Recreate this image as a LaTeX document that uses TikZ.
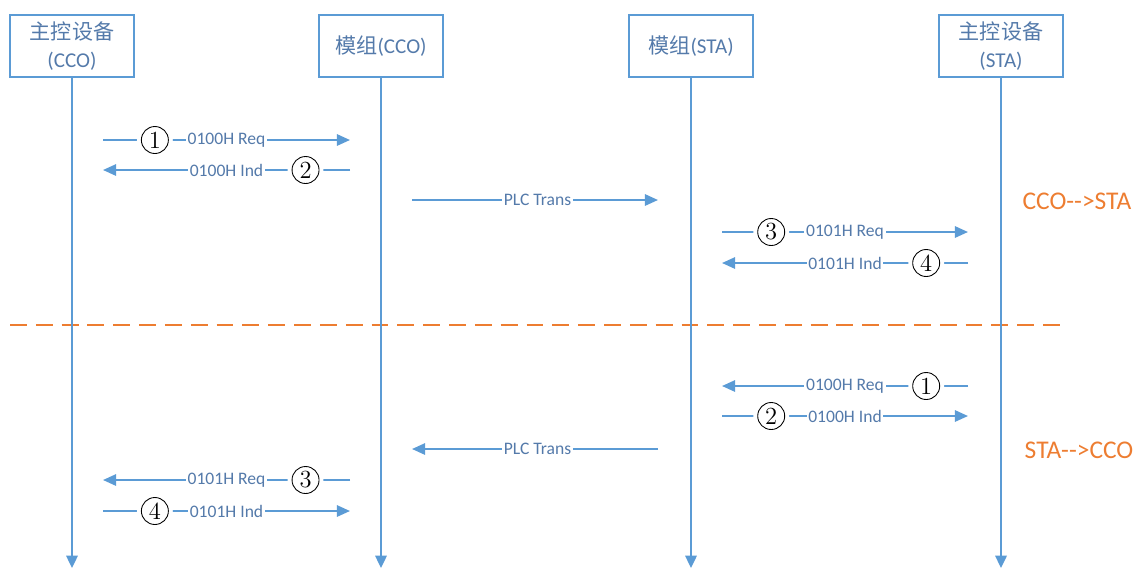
\documentclass[tikz,border=0pt]{standalone}
\usepackage{fontspec}
\setsansfont{Carlito}
\newfontfamily\cjk{Noto Sans CJK SC}
\usetikzlibrary{arrows.meta}
\definecolor{lineblue}{RGB}{91,155,213}
\definecolor{textblue}{RGB}{84,122,170}
\definecolor{lineorange}{RGB}{237,125,49}

\begin{document}
\begin{tikzpicture}[x=0.02cm,y=-0.02cm,font=\sffamily,
  box/.style={draw=lineblue,line width=0.9pt,minimum width=2.48cm,minimum height=1.24cm,
    align=center,text=textblue,font=\sffamily\fontsize{12}{15.5}\selectfont},
  life/.style={lineblue,line width=1.1pt,-{Triangle[length=7pt,width=6.5pt]}},
  msg/.style={lineblue,line width=1.1pt,-{Triangle[length=7.5pt,width=6.5pt]}},
  lbl/.style={fill=white,inner sep=1pt,text=textblue,font=\sffamily\fontsize{10}{11}\selectfont},
  num/.style={circle,draw=black,line width=0.5pt,fill=white,preaction={draw=white,line width=5pt},
    minimum size=0.54cm,inner sep=0pt,text=black,font=\rmfamily\fontsize{14}{14}\selectfont},
  note/.style={text=lineorange,font=\sffamily\fontsize{14.5}{16}\selectfont}]
\useasboundingbox (0,0) rectangle (1138,569);

\node[box] (hostc) at (72,46) {{\cjk 主控设备}\\(CCO)};
\node[box] (modc) at (381,46) {{\cjk 模组}(CCO)};
\node[box] (mods) at (691,46) {{\cjk 模组}(STA)};
\node[box] (hosts) at (1001,46) {{\cjk 主控设备}\\(STA)};

\coordinate (sepl) at (10,325);
\coordinate (sepr) at (1063,325);
\draw[lineorange,line width=1.1pt,dash pattern=on 9.6pt off 5.1pt] (sepl) -- (sepr);

\foreach \n/\x in {hostc/72,modc/381,mods/691,hosts/1001}{
  \coordinate (\n-end) at (\x,568);
  \draw[life] (\n) -- (\n-end);
}

\foreach \i/\xa/\xb/\y/\k/\p/\t in {
  1/103/350/140/1/0.21/0100H Req,
  2/350/103/170/2/0.18/0100H Ind,
  3/722/968/232/3/0.2/0101H Req,
  4/968/722/263/4/0.17/0101H Ind,
  5/968/722/386/1/0.17/0100H Req,
  6/722/968/416/2/0.2/0100H Ind,
  7/350/103/480/3/0.18/0101H Req,
  8/103/350/511/4/0.21/0101H Ind}{
  \coordinate (s\i) at (\xa,\y);
  \coordinate (e\i) at (\xb,\y);
  \draw[msg] (s\i) -- (e\i) node[lbl,pos=0.5] (t\i) {\t} node[num,pos=\p] (c\i) {\k};
}

\coordinate (pa) at (412,200);
\coordinate (pb) at (658,200);
\draw[msg] (pa) -- (pb) node[lbl,pos=0.51] (plc1) {PLC Trans};
\coordinate (pc) at (658,449);
\coordinate (pd) at (412,449);
\draw[msg] (pc) -- (pd) node[lbl,pos=0.49] (plc2) {PLC Trans};

\node[note] (down) at (1077,201) {CCO-{}->STA};
\node[note] (up) at (1079,450) {STA-{}->CCO};
\end{tikzpicture}
\end{document}
